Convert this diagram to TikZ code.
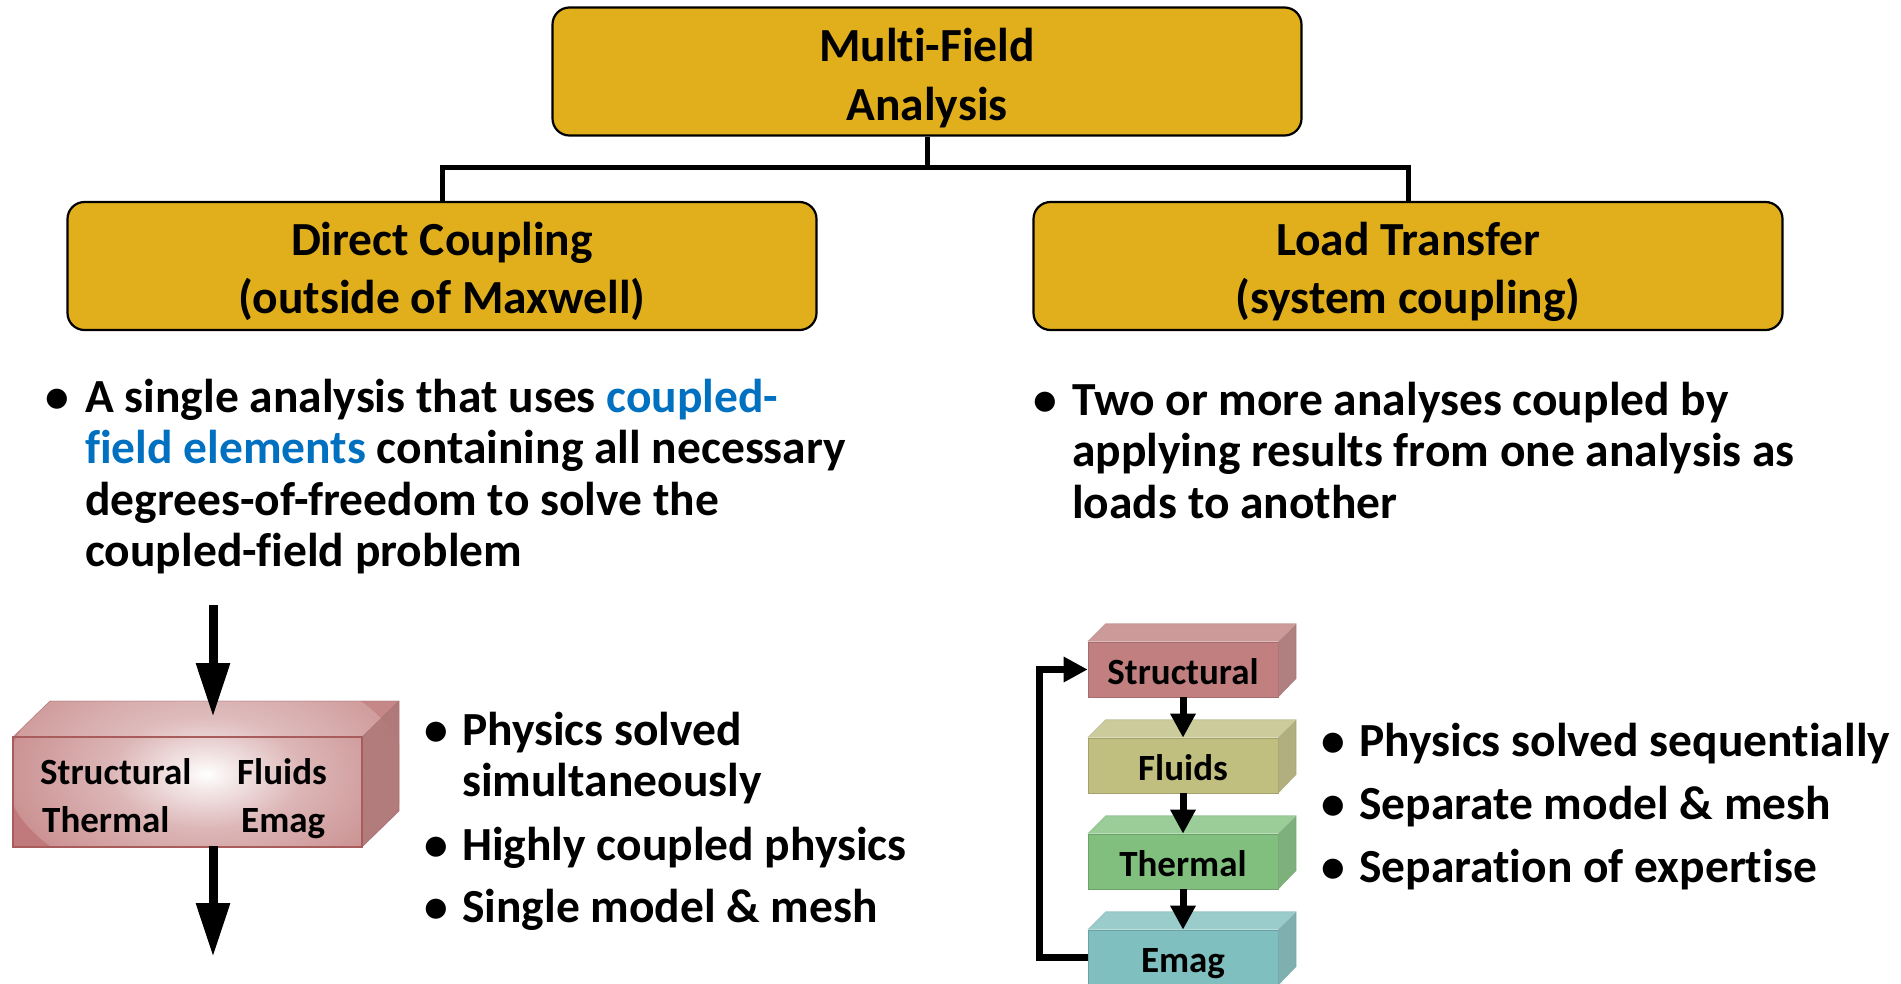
\documentclass[tikz,border=0pt]{standalone}
\usepackage{fontspec}
\setmainfont{Carlito}[Ligatures=CommonOff]
\usetikzlibrary{arrows.meta}

% palette
\definecolor{gold}{HTML}{E1AF1C}
\definecolor{linkblue}{HTML}{0070C0}
\definecolor{cubered}{HTML}{C07A7B}
\definecolor{cubeside}{HTML}{B07A7A}
\definecolor{cubeedge}{HTML}{A85C5C}
\definecolor{stfront}{HTML}{C17F7F}\definecolor{sttop}{HTML}{CD9A9A}\definecolor{stside}{HTML}{B07F7F}
\definecolor{flfront}{HTML}{C0BF80}\definecolor{fltop}{HTML}{CCCB9B}\definecolor{flside}{HTML}{B0AF7D}
\definecolor{thfront}{HTML}{81BF7E}\definecolor{thtop}{HTML}{9ACD98}\definecolor{thside}{HTML}{7EB07C}
\definecolor{emfront}{HTML}{80BFBF}\definecolor{emtop}{HTML}{9ACCCC}\definecolor{emside}{HTML}{7FB0B0}

% bright core fading out to the block colour
\pgfdeclareradialshading{cubeglow}{\pgfpoint{0bp}{0bp}}{%
  color(0bp)=(white); color(4bp)=(white!80!cubered); color(12bp)=(white!45!cubered);
  color(28bp)=(white!12!cubered); color(50bp)=(cubered)}

% top and side faces of a slab node: #1 node, #2 top colour, #3 side colour
\newcommand\slabfaces[3]{%
  \fill[#2] (#1.north west) -- ++(18,-18) -- ++(190,0) -- (#1.north east) -- cycle;
  \fill[#3] (#1.north east) -- ++(18,-18) -- ++(0,55) -- (#1.south east) -- cycle;
  \draw[#2!80!black, line width=0.6pt, opacity=0.5] (#1.north west) -- ++(18,-18) -- ++(190,0) -- ++(0,55);
  \draw[#2!80!black, line width=0.6pt, opacity=0.5] (#1.north east) -- ++(18,-18);
}

\begin{document}
\begin{tikzpicture}[x=1pt,y=-1pt,
  goldbox/.style={draw=black, line width=2.2pt, fill=gold, rounded corners=17pt,
    minimum width=749pt, minimum height=128pt, inner sep=0pt},
  title/.style={align=center, anchor=base, inner sep=0pt,
    font=\fontsize{47.5}{58}\selectfont\bfseries},
  body/.style={align=left, anchor=base west, inner sep=0pt,
    font=\fontsize{47.5}{51.5}\selectfont\bfseries},
  dot/.style={anchor=base, inner sep=0pt, font=\fontsize{47.5}{51.5}\selectfont\bfseries},
  cubetext/.style={anchor=base west, inner sep=0pt, font=\fontsize{37}{44}\selectfont\bfseries},
  slab/.style={minimum width=190pt, minimum height=55pt, inner sep=0pt,
    text height=30pt, text depth=0pt, font=\fontsize{37}{44}\selectfont\bfseries},
  tree/.style={line width=5pt},
  bigarrow/.style={line width=9pt, -{Triangle[width=32pt,length=54pt]}},
  smallarrow/.style={line width=7pt, -{Triangle[width=24pt,length=24pt]}},
]
\path[use as bounding box, fill=white] (0,0) rectangle (1901,983);

% ---- hierarchy (multi-line texts are placed by the baseline of their last line) ----
\node[goldbox] (mfa) at (927,71.5) {};
\node[title, font=\fontsize{47.5}{59}\selectfont\bfseries] (mfatext) at (927,120) {Multi-Field\\Analysis};
\node[goldbox] (dc) at (442,266) {};
\node[title] (dctext) at (442,313) {Direct Coupling\\(outside of Maxwell)};
\node[goldbox] (lt) at (1408,266) {};
\node[title] (lttext) at (1408,313) {Load Transfer\\(system coupling)};

\draw[tree] (mfa.south) -- ++(0,31) coordinate (split) -| (dc.north);
\draw[tree] (split) -| (lt.north);

% ---- descriptions ----
\node[dot] (dcdot) at (57,412) {•};
\node[body] (dcdesc) at (85,566.5) {A single analysis that uses \textcolor{linkblue}{coupled-}\\
  \textcolor{linkblue}{field elements} containing all necessary\\
  degrees-of-freedom to solve the\\
  coupled-field problem};
\node[dot] (ltdot) at (1045,415) {•};
\node[body] (ltdesc) at (1072,518) {Two or more analyses coupled by\\
  applying results from one analysis as\\
  loads to another};

% ---- single coupled block ----
\node[minimum width=349pt, minimum height=110pt, inner sep=0pt, outer sep=0pt] (cube) at (187.5,792) {};
\fill[cubered] (cube.south west) -- (cube.north west) -- ++(37,-36) -- ++(349,0) -- ++(0,110)
  -- (cube.south east) -- cycle;
\begin{scope}
  \clip (cube.south west) -- (cube.north west) -- ++(37,-36) -- ++(349,0) -- ++(0,110)
    -- (cube.south east) -- cycle;
  \shade[shading=cubeglow] (206,774) ellipse [x radius=200, y radius=115];
\end{scope}
\fill[cubeside, opacity=0.92] (cube.north east) -- ++(37,-36) -- ++(0,110) -- (cube.south east) -- cycle;
\fill[white, opacity=0.1] (cube.north west) -- ++(37,-36) -- ++(349,0) -- (cube.north east) -- cycle;
\draw[cubeedge, line width=1.2pt] (cube.south west) rectangle (cube.north east);
\draw[cubered!85!black, line width=0.6pt, opacity=0.6] (cube.north west) -- ++(37,-36) -- ++(349,0)
  -- ++(0,110) -- (cube.south east);
\draw[cubered!85!black, line width=0.6pt, opacity=0.6] (cube.north east) -- ++(37,-36);

\node[cubetext] (cst) at (40,784) {Structural};
\node[cubetext] (cfl) at (237,784) {Fluids};
\node[cubetext] (cth) at (42,832) {Thermal};
\node[cubetext] (cem) at (241,832) {Emag};

\coordinate (intail) at (213,605);
\coordinate (inhead) at (213,717);
\coordinate (outtail) at (213,846);
\coordinate (outhead) at (213,957);
\draw[bigarrow] (intail) -- (inhead);
\draw[bigarrow] (outtail) -- (outhead);

\node[dot] (d1) at (436,745) {•};
\node[body] (b1) at (462,796.5) {Physics solved\\simultaneously};
\node[dot] (d2) at (436,860) {•};
\node[body] (b2) at (462,860) {Highly coupled physics};
\node[dot] (d3) at (436,922) {•};
\node[body] (b3) at (462,922) {Single model \& mesh};

% ---- sequential stack ----
\node[slab, fill=stfront, draw=stfront!85!black, line width=0.6pt] (st) at (1183,669.5) {Structural};
\slabfaces{st}{sttop}{stside}
\node[slab, fill=flfront, draw=flfront!85!black, line width=0.6pt] (fl) at (1183,765.5) {Fluids};
\slabfaces{fl}{fltop}{flside}
\node[slab, fill=thfront, draw=thfront!85!black, line width=0.6pt] (th) at (1183,861.5) {Thermal};
\slabfaces{th}{thtop}{thside}
\node[slab, fill=emfront, draw=emfront!85!black, line width=0.6pt] (em) at (1183,957.5) {Emag};
\slabfaces{em}{emtop}{emside}

\draw[smallarrow] (st.south) -- (fl.north);
\draw[smallarrow] (fl.south) -- (th.north);
\draw[smallarrow] (th.south) -- (em.north);
\draw[smallarrow] (em.west) -- ++(-48,0) |- (st.west);

\node[dot] (e1) at (1333,756) {•};
\node[body] (s1) at (1359,756) {Physics solved sequentially};
\node[dot] (e2) at (1333,819) {•};
\node[body] (s2) at (1359,819) {Separate model \& mesh};
\node[dot] (e3) at (1333,882) {•};
\node[body] (s3) at (1359,882) {Separation of expertise};
\end{tikzpicture}
\end{document}
